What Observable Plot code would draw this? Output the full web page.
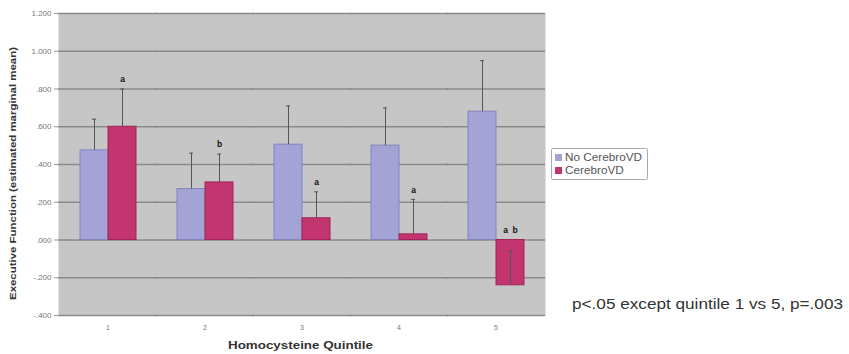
<!DOCTYPE html>
<html>
<head>
<meta charset="utf-8">
<script src="https://cdn.jsdelivr.net/npm/d3@7"></script>
<script src="https://cdn.jsdelivr.net/npm/@observablehq/plot@0.6"></script>
<style>
  html, body { margin: 0; padding: 0; background: #fff; }
  #wrap { position: relative; width: 849px; height: 354px; font-family: "Liberation Sans", Arial, sans-serif; }
  #legend { position: absolute; left: 551px; top: 148px; width: 97px; height: 32px; border: 1px solid #aaa; border-radius: 2px; background: #fff; font-size: 10.5px; color: #555; box-sizing: border-box; padding: 2px 0 0 3px; line-height: 13px; }
  #legend .row { white-space: nowrap; }
  #legend .sw { display: inline-block; width: 7px; height: 7px; margin-right: 3px; vertical-align: 0px; }
  #legend .lbl { display: inline-block; transform-origin: 0 50%; }
  .fit { display: inline-block; white-space: nowrap; transform-origin: 0 0; }
  #note { position: absolute; left: 572px; top: 296px; font-size: 14.5px; color: #333; }
  #ytitle { position: absolute; left: 7px; top: 300px; font-size: 9.5px; font-weight: bold; color: #333; transform-origin: 0 0; }
  #xtitle { position: absolute; left: 228px; top: 340px; font-size: 10px; font-weight: bold; color: #333; }
</style>
</head>
<body>
<div id="wrap">
  <div id="chart"></div>
  <div id="ytitle" class="fit">Executive Function (estimated marginal mean)</div>
  <div id="xtitle" class="fit">Homocysteine Quintile</div>
  <div id="legend"></div>
  <div id="note" class="fit">p&lt;.05 except quintile 1 vs 5, p=.003</div>
</div>
<script>
const quintiles = ["1", "2", "3", "4", "5"];
const seriesNames = ["No CerebroVD", "CerebroVD"];
const noCVD = [0.475, 0.27, 0.505, 0.50, 0.68];
const noCVDErrTop = [0.64, 0.46, 0.71, 0.70, 0.95];
const cvd = [0.60, 0.305, 0.115, 0.03, -0.24];
const cvdErrTop = [0.80, 0.455, 0.255, 0.215, -0.06];
const cvdSig = ["a", "b", "a", "a", "a  b"];
const yTicks = [-0.4, -0.2, 0, 0.2, 0.4, 0.6, 0.8, 1.0, 1.2];
const fills = ["#a3a3d6", "#c3356e"];
const strokes = ["#8383c0", "#a0245a"];

const rows = [];
quintiles.forEach((q, i) => {
  rows.push({q, series: seriesNames[0], value: noCVD[i], err: noCVDErrTop[i], sig: ""});
  rows.push({q, series: seriesNames[1], value: cvd[i], err: cvdErrTop[i], sig: cvdSig[i]});
});
const sigRows = rows.filter(d => d.sig);

const fmt = d => {
  const s = d3.format(".3f")(Math.abs(d)).replace(/^0/, "");
  return (d < 0 ? "-" : "") + s;
};

const chart = Plot.plot({
  width: 849,
  height: 354,
  marginLeft: 58,
  marginRight: 304,
  marginTop: 13,
  marginBottom: 39,
  style: {fontFamily: "Liberation Sans, Arial, sans-serif", background: "transparent"},
  fx: {domain: quintiles, padding: 0, label: null},
  x: {domain: seriesNames, paddingInner: 0, paddingOuter: 0.71, axis: null},
  y: {domain: [-0.4, 1.2]},
  color: {domain: seriesNames, range: fills},
  marks: [
    Plot.frame({fill: "#c6c6c6", stroke: null, insetLeft: -1, insetRight: -1}),
    Plot.gridY(yTicks, {stroke: "#8a8a8a", strokeOpacity: 1, strokeWidth: 1.5, insetLeft: -1, insetRight: -1}),
    Plot.axisY(yTicks, {tickFormat: fmt, tickSize: 5, tickPadding: 3, fontSize: 8, fill: "#777", stroke: "#999", label: null}),
    Plot.axisFx({anchor: "bottom", tickSize: 0, tickPadding: 10, fontSize: 7, fill: "#777", label: null}),
    Plot.barY(rows, {fx: "q", x: "series", y: "value", fill: "series",
      stroke: d => strokes[seriesNames.indexOf(d.series)], strokeWidth: 1}),
    Plot.ruleX(rows, {fx: "q", x: "series", y1: "value", y2: "err", stroke: "#555", strokeWidth: 1}),
    Plot.tickY(rows, {fx: "q", x: "series", y: "err", stroke: "#555", strokeWidth: 1, insetLeft: 12, insetRight: 12}),
    Plot.text(sigRows, {fx: "q", x: "series", y: d => Math.max(d.err, 0) + 0.05, text: "sig",
      fontSize: 8.5, fontWeight: "bold", fill: "#111"})
  ]
});
document.getElementById("chart").appendChild(chart);

const legend = document.getElementById("legend");
seriesNames.forEach((s, i) => {
  const row = document.createElement("div");
  row.className = "row";
  row.innerHTML = `<span class="sw" style="background:${fills[i]}"></span><span class="lbl">${s}</span>`;
  legend.appendChild(row);
});

// stretch texts horizontally to match the reference's wide rendering
function fitWidth(el, target, extra) {
  const w = el.getBoundingClientRect().width;
  el.style.transform = `scaleX(${target / w})` + (extra || "");
}
fitWidth(document.getElementById("note"), 271);
fitWidth(document.getElementById("xtitle"), 145);
const yt = document.getElementById("ytitle");
const yw = yt.getBoundingClientRect().width;
yt.style.transform = `rotate(-90deg) scaleX(${253 / yw})`;
const lbls = legend.querySelectorAll(".lbl");
const s0 = 77 / lbls[0].getBoundingClientRect().width;
lbls.forEach(l => { l.style.transform = `scaleX(${s0})`; });
</script>
</body>
</html>
